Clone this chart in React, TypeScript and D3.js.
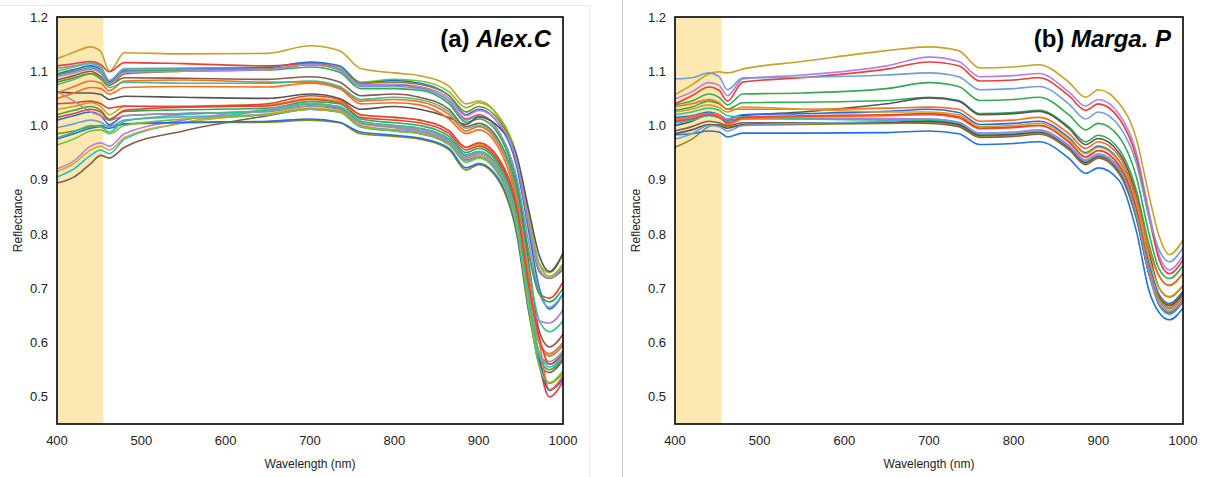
import React from 'react';
import * as d3 from 'd3';

// sampled wavelengths (nm) for every spectrum
const wavelengths = [400, 420, 440, 452, 462, 480, 550, 650, 700, 735, 760, 800, 830, 865, 885, 900, 925, 945, 960, 972, 984, 1000];
const xTicks = [400, 500, 600, 700, 800, 900, 1000];
const yTicks = [0.5, 0.6, 0.7, 0.8, 0.9, 1.0, 1.1, 1.2];
const shadeBand = [400, 455];

// (a) Alex.C
const curvesAlex = [
  [1.123, 1.135, 1.145, 1.136, 1.100, 1.134, 1.132, 1.133, 1.147, 1.138, 1.105, 1.097, 1.092, 1.072, 1.040, 1.045, 1.012, 0.940, 0.820, 0.745, 0.729, 0.762],
  [1.100, 1.108, 1.115, 1.108, 1.082, 1.105, 1.106, 1.108, 1.116, 1.108, 1.080, 1.085, 1.082, 1.062, 1.033, 1.042, 1.015, 0.945, 0.830, 0.745, 0.722, 0.745],
  [1.095, 1.103, 1.110, 1.103, 1.080, 1.102, 1.104, 1.107, 1.117, 1.110, 1.078, 1.083, 1.078, 1.055, 1.020, 1.030, 1.000, 0.925, 0.800, 0.700, 0.662, 0.690],
  [1.110, 1.114, 1.118, 1.112, 1.099, 1.116, 1.114, 1.110, 1.114, 1.104, 1.075, 1.075, 1.070, 1.045, 1.012, 1.020, 0.985, 0.900, 0.760, 0.690, 0.682, 0.712],
  [1.105, 1.110, 1.114, 1.105, 1.083, 1.104, 1.103, 1.104, 1.112, 1.102, 1.072, 1.072, 1.068, 1.045, 1.010, 1.018, 0.985, 0.905, 0.780, 0.690, 0.665, 0.690],
  [1.093, 1.100, 1.106, 1.098, 1.078, 1.100, 1.101, 1.102, 1.108, 1.098, 1.068, 1.068, 1.065, 1.040, 1.006, 1.012, 0.980, 0.890, 0.760, 0.690, 0.675, 0.700],
  [1.062, 1.060, 1.060, 1.057, 1.048, 1.054, 1.052, 1.050, 1.058, 1.050, 1.030, 1.035, 1.030, 1.015, 1.002, 1.016, 0.995, 0.945, 0.840, 0.760, 0.731, 0.765],
  [1.084, 1.092, 1.100, 1.090, 1.075, 1.088, 1.087, 1.085, 1.090, 1.080, 1.055, 1.058, 1.052, 1.030, 0.998, 1.004, 0.970, 0.880, 0.740, 0.620, 0.592, 0.615],
  [1.060, 1.072, 1.082, 1.078, 1.064, 1.082, 1.084, 1.080, 1.080, 1.070, 1.045, 1.048, 1.044, 1.020, 0.990, 0.998, 0.962, 0.870, 0.720, 0.600, 0.575, 0.595],
  [1.075, 1.085, 1.095, 1.085, 1.070, 1.080, 1.078, 1.078, 1.082, 1.072, 1.048, 1.052, 1.048, 1.025, 0.995, 1.000, 0.966, 0.875, 0.730, 0.640, 0.620, 0.640],
  [1.080, 1.088, 1.096, 1.088, 1.074, 1.095, 1.100, 1.104, 1.112, 1.104, 1.078, 1.080, 1.076, 1.055, 1.025, 1.035, 1.008, 0.935, 0.810, 0.730, 0.718, 0.735],
  [1.090, 1.097, 1.104, 1.096, 1.076, 1.098, 1.100, 1.103, 1.113, 1.104, 1.075, 1.076, 1.072, 1.050, 1.018, 1.028, 1.002, 0.935, 0.815, 0.735, 0.719, 0.740],
  [1.030, 1.035, 1.042, 1.035, 1.020, 1.035, 1.036, 1.038, 1.050, 1.045, 1.020, 1.015, 1.010, 0.990, 0.960, 0.965, 0.935, 0.850, 0.700, 0.600, 0.578, 0.600],
  [1.040, 1.042, 1.045, 1.040, 1.032, 1.036, 1.034, 1.036, 1.048, 1.042, 1.015, 1.010, 1.005, 0.985, 0.955, 0.962, 0.930, 0.840, 0.680, 0.560, 0.500, 0.528],
  [1.020, 1.028, 1.035, 1.028, 1.012, 1.026, 1.029, 1.032, 1.044, 1.040, 1.012, 1.005, 1.000, 0.980, 0.950, 0.958, 0.925, 0.835, 0.680, 0.570, 0.550, 0.572],
  [1.010, 1.018, 1.025, 1.018, 1.002, 1.018, 1.022, 1.026, 1.036, 1.032, 1.004, 0.998, 0.993, 0.975, 0.946, 0.952, 0.918, 0.825, 0.670, 0.560, 0.512, 0.535],
  [0.905, 0.920, 0.945, 0.955, 0.948, 0.975, 1.005, 1.028, 1.040, 1.035, 1.008, 1.000, 0.995, 0.975, 0.945, 0.952, 0.920, 0.830, 0.680, 0.580, 0.555, 0.575],
  [0.920, 0.935, 0.962, 0.968, 0.962, 0.985, 1.010, 1.030, 1.040, 1.034, 1.006, 0.998, 0.993, 0.972, 0.943, 0.950, 0.918, 0.830, 0.690, 0.640, 0.636, 0.660],
  [0.915, 0.930, 0.955, 0.962, 0.955, 0.978, 1.005, 1.022, 1.032, 1.028, 1.000, 0.992, 0.988, 0.968, 0.938, 0.945, 0.912, 0.822, 0.670, 0.600, 0.578, 0.600],
  [0.894, 0.905, 0.930, 0.945, 0.940, 0.960, 0.990, 1.018, 1.030, 1.025, 0.998, 0.990, 0.985, 0.965, 0.936, 0.942, 0.908, 0.815, 0.660, 0.560, 0.545, 0.568],
  [0.985, 0.990, 0.998, 1.000, 1.000, 1.003, 1.005, 1.006, 1.010, 1.005, 0.985, 0.980, 0.975, 0.955, 0.918, 0.928, 0.895, 0.800, 0.650, 0.560, 0.525, 0.545],
  [0.975, 0.985, 0.995, 0.998, 0.995, 1.003, 1.006, 1.008, 1.012, 1.006, 0.988, 0.982, 0.977, 0.958, 0.922, 0.930, 0.898, 0.805, 0.655, 0.570, 0.513, 0.532],
  [0.996, 1.003, 1.010, 1.006, 0.998, 1.010, 1.016, 1.020, 1.030, 1.025, 0.998, 0.992, 0.988, 0.968, 0.935, 0.942, 0.910, 0.818, 0.665, 0.575, 0.565, 0.585],
  [1.062, 1.045, 1.025, 1.018, 1.010, 1.018, 1.022, 1.026, 1.036, 1.030, 1.004, 0.996, 0.990, 0.970, 0.940, 0.948, 0.915, 0.825, 0.672, 0.600, 0.580, 0.600],
  [0.964, 0.975, 0.990, 0.992, 0.985, 1.000, 1.012, 1.020, 1.030, 1.025, 0.998, 0.990, 0.985, 0.965, 0.932, 0.940, 0.905, 0.812, 0.660, 0.555, 0.526, 0.548],
  [1.050, 1.060, 1.070, 1.068, 1.058, 1.070, 1.072, 1.071, 1.078, 1.068, 1.040, 1.042, 1.038, 1.012, 0.985, 0.992, 0.955, 0.860, 0.710, 0.600, 0.513, 0.540],
  [0.977, 0.988, 1.000, 0.998, 0.988, 1.008, 1.020, 1.028, 1.040, 1.035, 1.008, 1.000, 0.995, 0.975, 0.945, 0.952, 0.920, 0.830, 0.680, 0.580, 0.560, 0.580],
  [1.015, 1.022, 1.030, 1.025, 1.010, 1.028, 1.034, 1.040, 1.055, 1.048, 1.020, 1.015, 1.010, 0.990, 0.960, 0.968, 0.936, 0.850, 0.700, 0.610, 0.560, 0.580],
];
const colorsAlex = [
  '#c8a02a', '#78c233', '#2271e3', '#e8403a', '#6f9fd8', '#35a956', '#555555',
  '#8b5a4a', '#ff6b1f', '#3dbf8f', '#8c8a12', '#b380e6', '#d4a017', '#e8403a',
  '#35a956', '#2271e3', '#19c1cc', '#b380e6', '#e0a82e', '#8b5a4a', '#8c8a12',
  '#2271e3', '#6f9fd8', '#b08aa0', '#78c233', '#ff6b1f', '#3dbf8f', '#e8403a',
];

// (b) Marga. P
const curvesMarga = [
  [1.057, 1.075, 1.095, 1.099, 1.097, 1.104, 1.118, 1.138, 1.145, 1.138, 1.106, 1.108, 1.112, 1.080, 1.052, 1.066, 1.040, 0.975, 0.870, 0.795, 0.762, 0.789],
  [1.049, 1.062, 1.079, 1.074, 1.055, 1.086, 1.093, 1.110, 1.126, 1.118, 1.090, 1.092, 1.096, 1.062, 1.036, 1.048, 1.020, 0.950, 0.840, 0.760, 0.734, 0.760],
  [1.040, 1.055, 1.071, 1.065, 1.045, 1.080, 1.088, 1.104, 1.117, 1.110, 1.082, 1.084, 1.088, 1.055, 1.028, 1.040, 1.012, 0.940, 0.830, 0.752, 0.727, 0.752],
  [1.086, 1.088, 1.097, 1.090, 1.066, 1.088, 1.089, 1.093, 1.097, 1.090, 1.066, 1.068, 1.072, 1.040, 1.012, 1.025, 0.998, 0.930, 0.830, 0.770, 0.749, 0.775],
  [1.038, 1.045, 1.058, 1.052, 1.038, 1.058, 1.060, 1.068, 1.079, 1.072, 1.046, 1.048, 1.052, 1.020, 0.992, 1.004, 0.978, 0.905, 0.800, 0.735, 0.718, 0.742],
  [1.028, 1.034, 1.045, 1.040, 1.030, 1.042, 1.043, 1.046, 1.052, 1.046, 1.022, 1.024, 1.028, 0.998, 0.970, 0.982, 0.955, 0.880, 0.780, 0.722, 0.705, 0.728],
  [1.000, 1.008, 1.020, 1.015, 1.010, 1.018, 1.025, 1.040, 1.051, 1.045, 1.020, 1.022, 1.026, 0.995, 0.965, 0.976, 0.948, 0.870, 0.765, 0.700, 0.684, 0.705],
  [1.035, 1.040, 1.048, 1.042, 1.030, 1.030, 1.030, 1.032, 1.034, 1.030, 1.008, 1.010, 1.015, 0.985, 0.958, 0.970, 0.942, 0.865, 0.770, 0.722, 0.706, 0.728],
  [1.015, 1.018, 1.025, 1.020, 1.012, 1.020, 1.022, 1.026, 1.030, 1.024, 1.002, 1.004, 1.008, 0.978, 0.950, 0.962, 0.934, 0.855, 0.745, 0.688, 0.672, 0.695],
  [1.025, 1.030, 1.038, 1.033, 1.025, 1.034, 1.030, 1.025, 1.025, 1.020, 0.998, 1.000, 1.004, 0.975, 0.948, 0.960, 0.932, 0.855, 0.755, 0.700, 0.685, 0.706],
  [1.005, 1.010, 1.018, 1.015, 1.008, 1.012, 1.012, 1.012, 1.010, 1.004, 0.985, 0.987, 0.990, 0.962, 0.935, 0.946, 0.918, 0.835, 0.725, 0.668, 0.652, 0.675],
  [1.010, 1.015, 1.022, 1.018, 1.012, 1.015, 1.014, 1.013, 1.012, 1.006, 0.986, 0.988, 0.992, 0.964, 0.937, 0.948, 0.920, 0.838, 0.728, 0.671, 0.655, 0.678],
  [1.020, 1.025, 1.032, 1.028, 1.018, 1.016, 1.012, 1.010, 1.008, 1.002, 0.982, 0.984, 0.988, 0.960, 0.933, 0.944, 0.915, 0.833, 0.728, 0.678, 0.662, 0.685],
  [0.990, 0.998, 1.008, 1.005, 1.000, 1.005, 1.005, 1.005, 1.004, 0.998, 0.978, 0.980, 0.984, 0.956, 0.928, 0.940, 0.910, 0.828, 0.725, 0.684, 0.670, 0.692],
  [0.960, 0.975, 0.998, 1.002, 0.998, 1.000, 1.002, 1.004, 1.006, 1.000, 0.980, 0.982, 0.986, 0.958, 0.930, 0.942, 0.912, 0.830, 0.728, 0.684, 0.670, 0.690],
  [0.985, 0.992, 1.002, 1.000, 0.995, 1.002, 1.004, 1.006, 1.008, 1.002, 0.982, 0.984, 0.988, 0.960, 0.932, 0.944, 0.915, 0.832, 0.726, 0.682, 0.668, 0.690],
  [1.012, 1.016, 1.022, 1.020, 1.002, 1.012, 1.016, 1.018, 1.020, 1.014, 0.994, 0.996, 1.000, 0.970, 0.942, 0.954, 0.925, 0.845, 0.735, 0.680, 0.664, 0.686],
  [1.008, 1.012, 1.020, 1.015, 1.005, 1.015, 1.018, 1.020, 1.022, 1.016, 0.995, 0.997, 1.000, 0.970, 0.942, 0.954, 0.925, 0.845, 0.730, 0.670, 0.655, 0.678],
  [0.983, 0.985, 0.990, 0.988, 0.979, 0.986, 0.986, 0.987, 0.990, 0.985, 0.965, 0.967, 0.970, 0.940, 0.912, 0.922, 0.898, 0.805, 0.695, 0.655, 0.642, 0.664],
  [0.975, 0.985, 1.000, 0.998, 0.990, 1.000, 1.004, 1.008, 1.012, 1.006, 0.985, 0.987, 0.990, 0.962, 0.935, 0.946, 0.918, 0.835, 0.728, 0.672, 0.658, 0.680],
];
const colorsMarga = [
  '#c8a02a', '#b380e6', '#e8403a', '#6f9fd8', '#35a956', '#35a956', '#555555',
  '#ff6b1f', '#2271e3', '#d4a017', '#19c1cc', '#b380e6', '#3dbf8f', '#8b5a4a',
  '#8c8a12', '#555555', '#ff6b1f', '#e8403a', '#2271e3', '#6f9fd8',
];

const FONT = 'Arial, "Liberation Sans", Helvetica, sans-serif';
const TOP = 17;
const BOTTOM = 424;

function Panel({ left, right, curves, colors, tag, name }: any) {
  const x = d3.scaleLinear().domain([400, 1000]).range([left, right]);
  const y = d3.scaleLinear().domain([0.45, 1.2]).range([BOTTOM, TOP]);
  const line = d3.line<number>()
    .x((_, i) => x(wavelengths[i]))
    .y(d => y(d))
    .curve(d3.curveMonotoneX);

  return (
    <g fontFamily={FONT}>
      <rect x={x(shadeBand[0])} y={TOP} width={x(shadeBand[1]) - x(shadeBand[0])} height={BOTTOM - TOP} fill="#fde8b2" />
      {curves.map((c: number[], i: number) => (
        <path key={i} d={line(c) || ''} fill="none" stroke={colors[i]} strokeWidth={1.6} />
      ))}
      <rect x={left} y={TOP} width={right - left} height={BOTTOM - TOP} fill="none" stroke="#000" strokeWidth={1.6} />
      {yTicks.map(t => (
        <text key={t} x={left - 9} y={y(t)} dy="0.35em" textAnchor="end" fontSize={13} fill="#222">{t.toFixed(1)}</text>
      ))}
      {xTicks.map(t => (
        <text key={t} x={x(t)} y={445} textAnchor="middle" fontSize={13} fill="#222">{t}</text>
      ))}
      <text x={(left + right) / 2} y={468} textAnchor="middle" fontSize={12} fill="#222">Wavelength (nm)</text>
      <text transform={`translate(${left - 35},${(TOP + BOTTOM) / 2}) rotate(-90)`} textAnchor="middle" fontSize={12} fill="#222">Reflectance</text>
      <text x={right - 12} y={47} textAnchor="end" fontSize={24} fontWeight="bold" fill="#000">
        {tag} <tspan fontStyle="italic">{name}</tspan>
      </text>
    </g>
  );
}

export default function App() {
  return (
    <div style={{ position: 'absolute', left: 0, top: 0 }}>
      <svg width={1206} height={477} style={{ display: 'block', background: '#fff' }}>
        <line x1={0} x2={589.5} y1={5.5} y2={5.5} stroke="#e8e8e8" />
        <line x1={589.5} x2={589.5} y1={5.5} y2={477} stroke="#e8e8e8" />
        <line x1={622.5} x2={622.5} y1={0} y2={477} stroke="#c8c8c8" />
        <Panel left={57} right={563} curves={curvesAlex} colors={colorsAlex} tag="(a)" name="Alex.C" />
        <Panel left={675} right={1183} curves={curvesMarga} colors={colorsMarga} tag="(b)" name="Marga. P" />
      </svg>
    </div>
  );
}
